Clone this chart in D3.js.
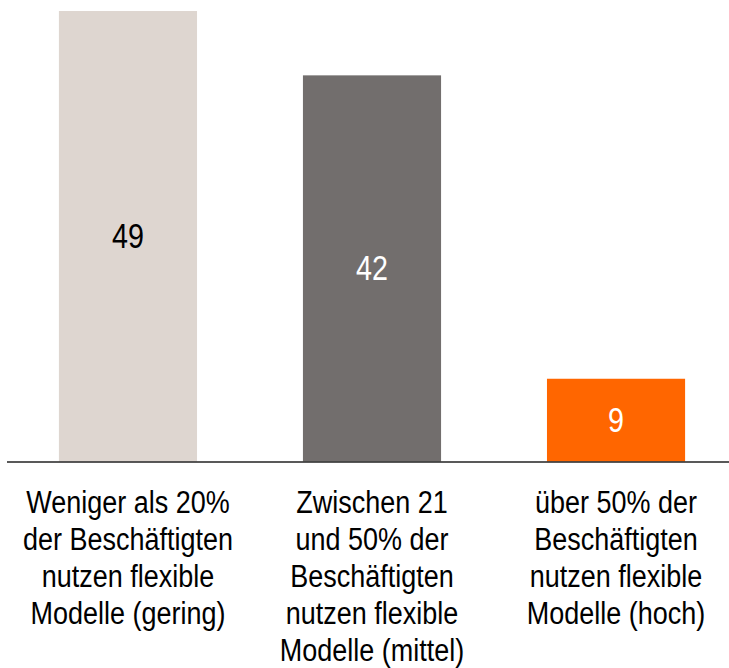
<!DOCTYPE html>
<html>
<head>
<meta charset="utf-8">
<script src="https://cdn.jsdelivr.net/npm/d3@7"></script>
<style>
  body { margin: 0; background: #fff; }
  svg { display: block; font-family: "Liberation Sans", Arial, sans-serif; }
</style>
</head>
<body>
<svg id="chart"></svg>
<script>
var categories = ["gering", "mittel", "hoch"]
var values = [49, 42, 9]
var labels = [
    ["Weniger als 20%", "der Beschäftigten", "nutzen flexible", "Modelle (gering)"],
    ["Zwischen 21", "und 50% der", "Beschäftigten", "nutzen flexible", "Modelle (mittel)"],
    ["über 50% der", "Beschäftigten", "nutzen flexible", "Modelle (hoch)"]
]
var barColors = ["#ded6d0", "#726e6d", "#ff6600"]
var valueColors = ["#000000", "#ffffff", "#ffffff"]

var width = 729, height = 668
var baseline = 461.5

var svg = d3.select("#chart")
            .attr("width", width)
            .attr("height", height)

var xScale = d3.scaleBand()
               .domain(categories)
               .range([-47, 791])
               .padding(0.434)

var yScale = d3.scaleLinear()
               .domain([0, 49])
               .range([baseline, 11])

// bars
svg.selectAll(".bar")
   .data(values)
   .join("rect")
   .attr("class", "bar")
   .attr("x", (d, i) => xScale(categories[i]))
   .attr("y", d => yScale(d))
   .attr("width", xScale.bandwidth())
   .attr("height", d => baseline - yScale(d))
   .attr("fill", (d, i) => barColors[i])

// value labels in the middle of the bars
svg.selectAll(".val")
   .data(values)
   .join("text")
   .attr("class", "val")
   .attr("text-anchor", "middle")
   .attr("dominant-baseline", "central")
   .attr("font-size", 35)
   .attr("fill", (d, i) => valueColors[i])
   .attr("transform", (d, i) => {
       var cx = xScale(categories[i]) + xScale.bandwidth() / 2
       var cy = (yScale(d) + baseline) / 2
       return `translate(${cx},${cy}) scale(0.82,1)`
   })
   .text(d => d)

// baseline
svg.append("line")
   .attr("x1", 7)
   .attr("x2", width)
   .attr("y1", baseline + 0.5)
   .attr("y2", baseline + 0.5)
   .attr("stroke", "#222")
   .attr("stroke-width", 1.5)

// category labels
var groups = svg.selectAll(".cat")
   .data(labels)
   .join("text")
   .attr("class", "cat")
   .attr("text-anchor", "middle")
   .attr("font-size", 31)
   .attr("fill", "#000")
   .attr("transform", (d, i) => {
       var cx = xScale(categories[i]) + xScale.bandwidth() / 2
       return `translate(${cx},513) scale(0.87,1)`
   })

groups.selectAll("tspan")
   .data(d => d)
   .join("tspan")
   .attr("x", 0)
   .attr("y", (d, j) => j * 37)
   .text(d => d)
</script>
</body>
</html>
